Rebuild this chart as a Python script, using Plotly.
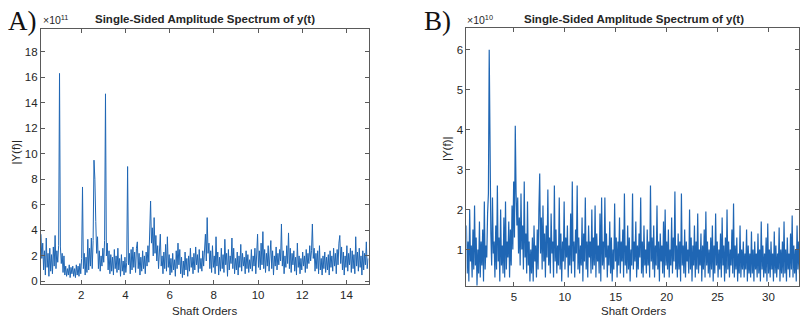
import numpy as np
import plotly.graph_objects as go

# ---------------- Panel A data (x 1e11) ----------------
a_start, a_step = 0.18, 0.04
a_vals = [
    3.7, 1.8, 3.0, 0.9, 2.4, 0.5, 3.4, 1.1, 2.2, 0.4,
    2.6, 0.8, 2.1, 0.6, 2.7, 1.2, 3.6, 1.0, 2.4, 1.5,
    2.8, 16.3, 2.7, 1.4, 2.2, 0.7, 2.0, 0.5, 1.2, 0.4,
    1.0, 0.5, 1.3, 0.3, 1.1, 0.6, 1.2, 0.4, 1.0, 0.3,
    1.3, 0.5, 1.2, 0.4, 1.4, 0.6, 1.8, 7.4, 1.0, 2.2,
    0.5, 1.9, 0.7, 3.3, 0.9, 2.6, 1.2, 3.4, 1.0, 3.2,
    9.5, 8.0, 4.7, 2.2, 3.5, 1.0, 2.4, 0.8, 2.0, 1.2,
    2.6, 1.5, 3.2, 14.7, 2.0, 3.0, 0.9, 2.4, 0.6, 2.1,
    0.8, 1.9, 0.5, 2.5, 1.0, 2.0, 0.7, 2.6, 0.9, 1.8,
    0.4, 2.1, 0.8, 1.6, 0.5, 1.9, 0.7, 1.5, 9.0, 1.3,
    2.2, 0.6, 2.5, 0.9, 2.7, 1.1, 2.3, 0.7, 2.6, 3.1,
    1.0, 2.2, 0.5, 1.9, 0.8, 2.4, 1.0, 2.0, 0.6, 2.3,
    1.2, 2.8, 1.5, 3.4, 6.3, 3.0, 4.2, 2.0, 5.0, 2.2,
    3.6, 1.6, 2.8, 1.0, 2.4, 3.7, 1.2, 2.0, 0.6, 2.3,
    1.0, 2.9, 0.8, 3.5, 1.1, 2.1, 0.5, 1.8, 0.7, 2.2,
    0.9, 1.7, 0.4, 2.4, 1.0, 3.0, 1.3, 2.5, 0.6, 1.9,
    0.3, 1.6, 0.5, 2.3, 0.9, 1.8, 0.4, 2.0, 0.8, 2.6,
    1.1, 1.9, 0.6, 2.2, 0.9, 2.7, 1.3, 2.1, 0.7, 2.5,
    1.0, 1.8, 0.8, 2.4, 1.2, 2.9, 3.7, 1.6, 5.0, 2.2,
    3.0, 1.0, 2.4, 0.7, 2.8, 1.1, 2.0, 0.6, 3.5, 1.2,
    2.3, 0.5, 1.9, 0.8, 2.6, 1.0, 2.1, 0.7, 3.3, 1.3,
    2.2, 0.4, 2.5, 0.9, 2.0, 1.4, 3.4, 1.0, 2.6, 0.6,
    1.8, 0.9, 2.3, 0.5, 2.0, 1.1, 2.9, 0.8, 2.2, 1.2,
    1.9, 0.6, 2.4, 1.0, 2.1, 0.7, 1.7, 1.0, 2.5, 0.8,
    2.0, 1.2, 2.6, 0.6, 2.3, 3.7, 1.1, 2.4, 0.9, 3.0,
    1.3, 3.9, 1.0, 2.5, 0.7, 2.2, 1.2, 2.8, 0.8, 2.1,
    3.2, 1.0, 2.4, 0.5, 2.0, 1.2, 2.7, 0.9, 2.2, 1.3,
    2.5, 1.6, 4.5, 1.2, 2.4, 0.6, 2.0, 1.1, 2.8, 1.4,
    3.8, 1.0, 2.6, 0.7, 2.2, 1.3, 2.4, 0.8, 1.9, 0.5,
    3.0, 1.1, 2.0, 0.6, 1.8, 0.9, 2.3, 1.2, 2.0, 0.7,
    2.5, 1.0, 2.2, 1.4, 2.8, 1.6, 2.4, 4.5, 1.8, 2.6,
    0.8, 2.2, 1.0, 2.4, 0.6, 2.8, 0.9, 1.8, 0.5, 2.0,
    1.0, 2.3, 0.7, 1.9, 0.9, 2.1, 0.5, 2.4, 1.1, 2.0,
    0.8, 2.6, 1.2, 2.2, 0.6, 2.5, 1.3, 3.0, 3.6, 1.4,
    2.7, 0.9, 2.3, 0.5, 2.0, 1.1, 2.8, 0.8, 2.2, 1.3,
    2.6, 0.7, 2.4, 1.0, 2.1, 0.6, 3.5, 1.2, 2.3, 0.8,
    2.6, 1.1, 2.0, 0.5, 2.4, 0.9, 2.2, 1.3, 3.1, 1.0,
    1.8,
]
a_x = a_start + a_step * np.arange(len(a_vals))

# ---------------- Panel B data (x 1e10) ----------------
b_start, b_step = 0.33, 0.08
b_vals = [
    1.6, 0.4, 1.2, 0.2, 2.0, 0.7, 1.1, 0.3, 1.5, 0.5,
    2.1, 0.6, 1.3, 0.1, 1.0, 0.4, 1.7, 0.3, 1.2, 0.6,
    1.5, 0.2, 2.2, 0.5, 1.1, 0.8, 1.9, 2.4, 6.0, 2.8,
    1.4, 0.6, 2.3, 0.9, 1.2, 0.3, 1.6, 0.5, 2.6, 0.7,
    1.3, 0.2, 2.0, 0.6, 1.1, 0.4, 1.8, 0.3, 2.2, 0.5,
    1.2, 0.8, 1.7, 0.3, 1.5, 0.6, 2.1, 1.0, 2.7, 1.3,
    4.1, 2.4, 1.6, 2.3, 0.9, 1.8, 0.6, 2.4, 1.0, 1.6,
    0.5, 2.7, 0.8, 1.4, 0.4, 2.2, 0.6, 1.2, 0.2, 1.0,
    0.4, 1.3, 0.2, 1.6, 0.7, 1.1, 0.3, 1.5, 0.5, 2.0,
    2.9, 0.9, 1.8, 0.5, 2.1, 0.7, 1.4, 0.3, 1.6, 0.8,
    2.5, 0.6, 1.3, 0.4, 1.9, 0.9, 1.2, 0.3, 2.6, 0.7,
    1.5, 0.4, 1.1, 0.6, 2.3, 0.5, 1.4, 0.2, 1.2, 0.7,
    2.2, 0.5, 1.3, 0.8, 1.6, 0.3, 1.1, 0.6, 1.9, 0.4,
    2.7, 0.7, 1.2, 0.3, 1.5, 0.9, 2.6, 0.5, 1.3, 0.4,
    1.1, 0.6, 1.8, 0.2, 1.4, 0.7, 2.3, 0.5, 1.2, 0.3,
    1.6, 0.8, 1.2, 0.4, 2.0, 0.5, 1.3, 0.6, 2.1, 0.3,
    1.4, 0.7, 1.1, 0.4, 1.9, 0.2, 2.3, 0.6, 1.2, 0.5,
    2.3, 0.8, 1.4, 0.3, 1.1, 0.6, 1.7, 0.4, 1.3, 0.2,
    1.0, 0.5, 2.15, 0.7, 1.3, 0.3, 1.2, 0.6, 1.8, 0.4,
    1.2, 0.7, 1.5, 0.3, 2.4, 0.6, 1.1, 0.4, 1.6, 0.5,
    1.3, 0.2, 1.0, 0.6, 2.4, 0.5, 1.2, 0.7, 1.7, 0.3,
    1.1, 0.5, 1.4, 0.8, 2.3, 0.4, 1.2, 0.3, 1.6, 0.6,
    1.0, 0.4, 1.5, 0.6, 1.2, 0.3, 2.6, 0.7, 1.3, 0.5,
    1.6, 0.3, 1.1, 0.6, 2.1, 0.5, 1.2, 0.2, 1.4, 0.7,
    1.1, 0.4, 1.7, 0.3, 2.0, 0.6, 1.2, 0.5, 1.5, 0.3,
    1.0, 0.6, 1.8, 0.4, 1.3, 0.7, 2.45, 0.5, 1.1, 0.3,
    1.4, 0.5, 1.2, 0.2, 2.4, 0.6, 1.1, 0.4, 1.5, 0.3,
    1.2, 0.7, 1.0, 0.4, 2.0, 0.5, 1.3, 0.2, 1.1, 0.6,
    1.6, 0.3, 1.2, 0.5, 1.9, 0.4, 1.0, 0.6, 1.4, 0.2,
    1.1, 0.5, 1.5, 0.3, 1.95, 0.6, 1.2, 0.4, 1.0, 0.3,
    1.3, 0.5, 1.6, 0.2, 1.1, 0.4, 1.9, 0.6, 1.2, 0.3,
    1.0, 0.5, 1.4, 0.3, 1.8, 0.6, 1.1, 0.2, 1.3, 0.4,
    2.0, 0.5, 1.2, 0.3, 1.0, 0.6, 1.5, 0.4, 2.15, 0.3,
    1.1, 0.5, 1.3, 0.2, 0.9, 0.4, 1.6, 0.3, 1.0, 0.5,
    1.2, 0.3, 0.9, 0.5, 1.5, 0.2, 1.1, 0.4, 0.9, 0.3,
    1.45, 0.4, 1.0, 0.2, 1.2, 0.5, 0.9, 0.3, 1.4, 0.4,
    1.0, 0.2, 1.7, 0.5, 1.1, 0.3, 0.9, 0.4, 1.3, 0.2,
    1.65, 0.4, 1.0, 0.3, 1.2, 0.5, 0.9, 0.2, 1.45, 0.4,
    1.1, 0.3, 0.9, 0.5, 1.55, 0.2, 1.0, 0.4, 1.2, 0.3,
    1.7, 0.4, 1.0, 0.2, 1.3, 0.5, 0.9, 0.3, 1.4, 0.5,
    1.85, 0.3, 1.1, 0.4, 1.0, 0.2, 1.6, 0.5, 1.2, 0.4,
]
b_x = b_start + b_step * np.arange(len(b_vals))

a_xticks = [2, 4, 6, 8, 10, 12, 14]
a_yticks = [0, 2, 4, 6, 8, 10, 12, 14, 16, 18]
b_xticks = [5, 10, 15, 20, 25, 30]
b_yticks = [1, 2, 3, 4, 5, 6]

title_text = "Single-Sided Amplitude Spectrum of y(t)"
line_color = "#1f66b4"
axis_color = "#5a5a5a"
text_color = "#262626"
font_family = "Liberation Sans, Arial, sans-serif"

fig = go.Figure()
fig.add_trace(go.Scatter(x=a_x, y=a_vals, mode="lines",
                         line=dict(color=line_color, width=1),
                         xaxis="x", yaxis="y", showlegend=False))
fig.add_trace(go.Scatter(x=b_x, y=b_vals, mode="lines",
                         line=dict(color=line_color, width=1.2),
                         xaxis="x2", yaxis="y2", showlegend=False))

W, H = 800, 325
def xd(a, b):
    return [a / W, b / W]
def yd(top, bottom):
    return [(H - bottom) / H, (H - top) / H]

common = dict(showgrid=False, zeroline=False, showline=True, linecolor=axis_color,
              linewidth=1, mirror="allticks", ticks="inside", ticklen=4,
              tickcolor=axis_color, tickfont=dict(size=11.5, color=text_color, family=font_family))

fig.update_layout(
    width=W, height=H,
    margin=dict(l=0, r=0, t=0, b=0),
    paper_bgcolor="white", plot_bgcolor="white",
    xaxis=dict(domain=xd(41, 369), range=[0.18, 15.0], tickvals=a_xticks,
               anchor="y", **common),
    yaxis=dict(domain=yd(29, 287), range=[-0.23, 19.8], tickvals=a_yticks,
               anchor="x", **common),
    xaxis2=dict(domain=xd(467, 800), range=[0.33, 33.0], tickvals=b_xticks,
                anchor="y2", **common),
    yaxis2=dict(domain=yd(28, 289), range=[0.08, 6.55], tickvals=b_yticks,
                anchor="x2", **common),
)

serif = "Liberation Serif, Times New Roman, serif"
ann = []
ann.append(dict(text="<b>" + title_text + "</b>", x=205, y=19.5, xanchor="center",
                font=dict(size=11.5, color=text_color, family=font_family)))
ann.append(dict(text="<b>" + title_text + "</b>", x=635, y=19.5, xanchor="center",
                font=dict(size=11.5, color=text_color, family=font_family)))
ann.append(dict(text="Shaft Orders", x=205, y=314, xanchor="center",
                font=dict(size=11.5, color=text_color, family=font_family)))
ann.append(dict(text="Shaft Orders", x=634, y=314, xanchor="center",
                font=dict(size=11.5, color=text_color, family=font_family)))
ann.append(dict(text="|Y(f)|", x=16, y=153, xanchor="center", textangle=-90,
                font=dict(size=11.5, color=text_color, family=font_family)))
ann.append(dict(text="|Y(f)|", x=447, y=150, xanchor="center", textangle=-90,
                font=dict(size=11.5, color=text_color, family=font_family)))
ann.append(dict(text="×10<sup>11</sup>", x=41, y=20, xanchor="left",
                font=dict(size=10.5, color=text_color, family=font_family)))
ann.append(dict(text="×10<sup>10</sup>", x=466, y=20, xanchor="left",
                font=dict(size=10.5, color=text_color, family=font_family)))
ann.append(dict(text="A)", x=6, y=21, xanchor="left",
                font=dict(size=27, color="#111111", family=serif)))
ann.append(dict(text="B)", x=423, y=21, xanchor="left",
                font=dict(size=27, color="#111111", family=serif)))

for a in ann:
    a["xref"] = "paper"
    a["yref"] = "paper"
    a["showarrow"] = False
    a["x"] = a["x"] / W
    a["y"] = (H - a["y"]) / H
    a["yanchor"] = "middle"
fig.update_layout(annotations=ann)

fig.write_html("out.html", config={"displayModeBar": False},
               post_script="document.body.style.margin='0';document.body.style.overflow='hidden';")
